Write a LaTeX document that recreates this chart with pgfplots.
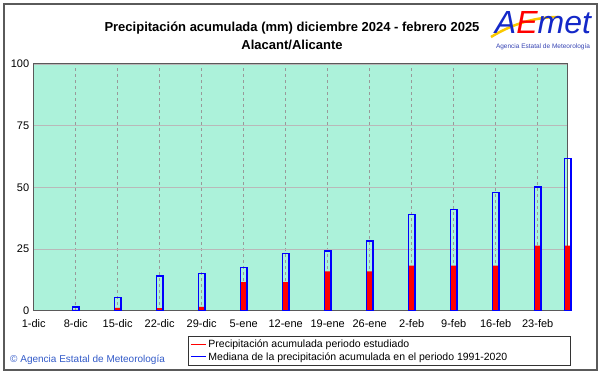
\documentclass[border=0pt]{standalone}
\usepackage{pgfplots}
\pgfplotsset{compat=1.18}
\usepackage{fontspec}
\setmainfont{Liberation Sans}
\definecolor{bgc}{RGB}{172,242,218}
\definecolor{framec}{RGB}{90,90,90}
\definecolor{cpblue}{RGB}{50,90,200}
\definecolor{logoblue}{RGB}{20,40,200}
\definecolor{logoyel}{RGB}{250,200,0}
\pgfplotstableread{
day prec med
7 0.3 1.4
14 1.1 5.4
21 1.0 14.0
28 1.5 15.1
35 11.6 17.5
42 11.6 23.1
49 15.9 24.2
56 15.9 28.3
63 18.3 38.9
70 18.3 41.0
77 18.3 47.9
84 26.4 50.2
89 26.4 61.7
}\datatable
\begin{document}
\begin{tikzpicture}[x=1pt,y=1pt]
\path[use as bounding box] (0,0) rectangle (601,374);
\draw[framec, line width=1.5pt] (4,4) rectangle (597,370);
\node[font=\bfseries\fontsize{13}{15}\selectfont] at (292,346) {Precipitación acumulada (mm) diciembre 2024 - febrero 2025};
\node[font=\bfseries\fontsize{13}{15}\selectfont] at (292,329) {Alacant/Alicante};
% logo
\draw[logoyel, line width=2.5pt] (491,337) .. controls (512,350) and (536,357) .. (558,357);
\node[font=\itshape\fontsize{32}{32}\selectfont, inner sep=0pt] at (543,351) {\textcolor{logoblue}{A}\textcolor{red}{E}\textcolor{logoblue}{met}};
\node[font=\fontsize{6.5}{7}\selectfont, text=logoblue!70!gray, inner sep=0pt] at (543,327) {Agencia Estatal de Meteorología};
\node[font=\fontsize{10}{12}\selectfont, text=cpblue, anchor=west, inner sep=0pt] at (10,14) {© Agencia Estatal de Meteorología};
\begin{axis}[
  at={(33.7pt,63.3pt)}, anchor=south west,
  scale only axis, width=534pt, height=246.7pt,
  xmin=0, xmax=89, ymin=0, ymax=100,
  axis background/.style={fill=bgc},
  axis line style={draw=framec, line width=1pt},
  xtick={0,7,...,84},
  xticklabels={1-dic,8-dic,15-dic,22-dic,29-dic,5-ene,12-ene,19-ene,26-ene,2-feb,9-feb,16-feb,23-feb},
  ytick={0,25,50,75,100},
  major tick length=0pt,
  xmajorgrids, ymajorgrids,
  x grid style={gray!80, dashed, line width=0.8pt},
  y grid style={gray!55, line width=0.8pt},
  tick label style={font=\fontsize{11}{13}\selectfont},
  xticklabel style={yshift=-5.5pt},
  yticklabel style={xshift=-1pt},
  /pgf/number format/assume math mode=true,
  clip=false,
  legend style={at={(axis description cs:0.289,-0.224)}, anchor=south west,
    draw=black!80, line width=0.8pt, font=\fontsize{10.5}{12}\selectfont,
    inner xsep=2pt, inner ysep=2pt, row sep=-1pt, fill=white},
  legend cell align=left,
]
\addplot[ybar, bar width=5pt, bar shift=0pt, fill=red, draw=none,
  legend image code/.code={\draw[draw=red, line width=1pt] (0pt,0pt) -- (15pt,0pt);}]
  table[x=day, y=prec] {\datatable};
\addlegendentry{Precipitación acumulada periodo estudiado}
\addplot[ybar, bar width=6.5pt, bar shift=0pt, fill=none, draw=blue, line width=1.5pt,
  legend image code/.code={\draw[draw=blue, line width=1pt] (0pt,0pt) -- (15pt,0pt);}]
  table[x=day, y=med] {\datatable};
\addlegendentry{\makebox[358pt][l]{Mediana de la precipitación acumulada en el periodo 1991-2020}}
\end{axis}
\end{tikzpicture}
\end{document}
